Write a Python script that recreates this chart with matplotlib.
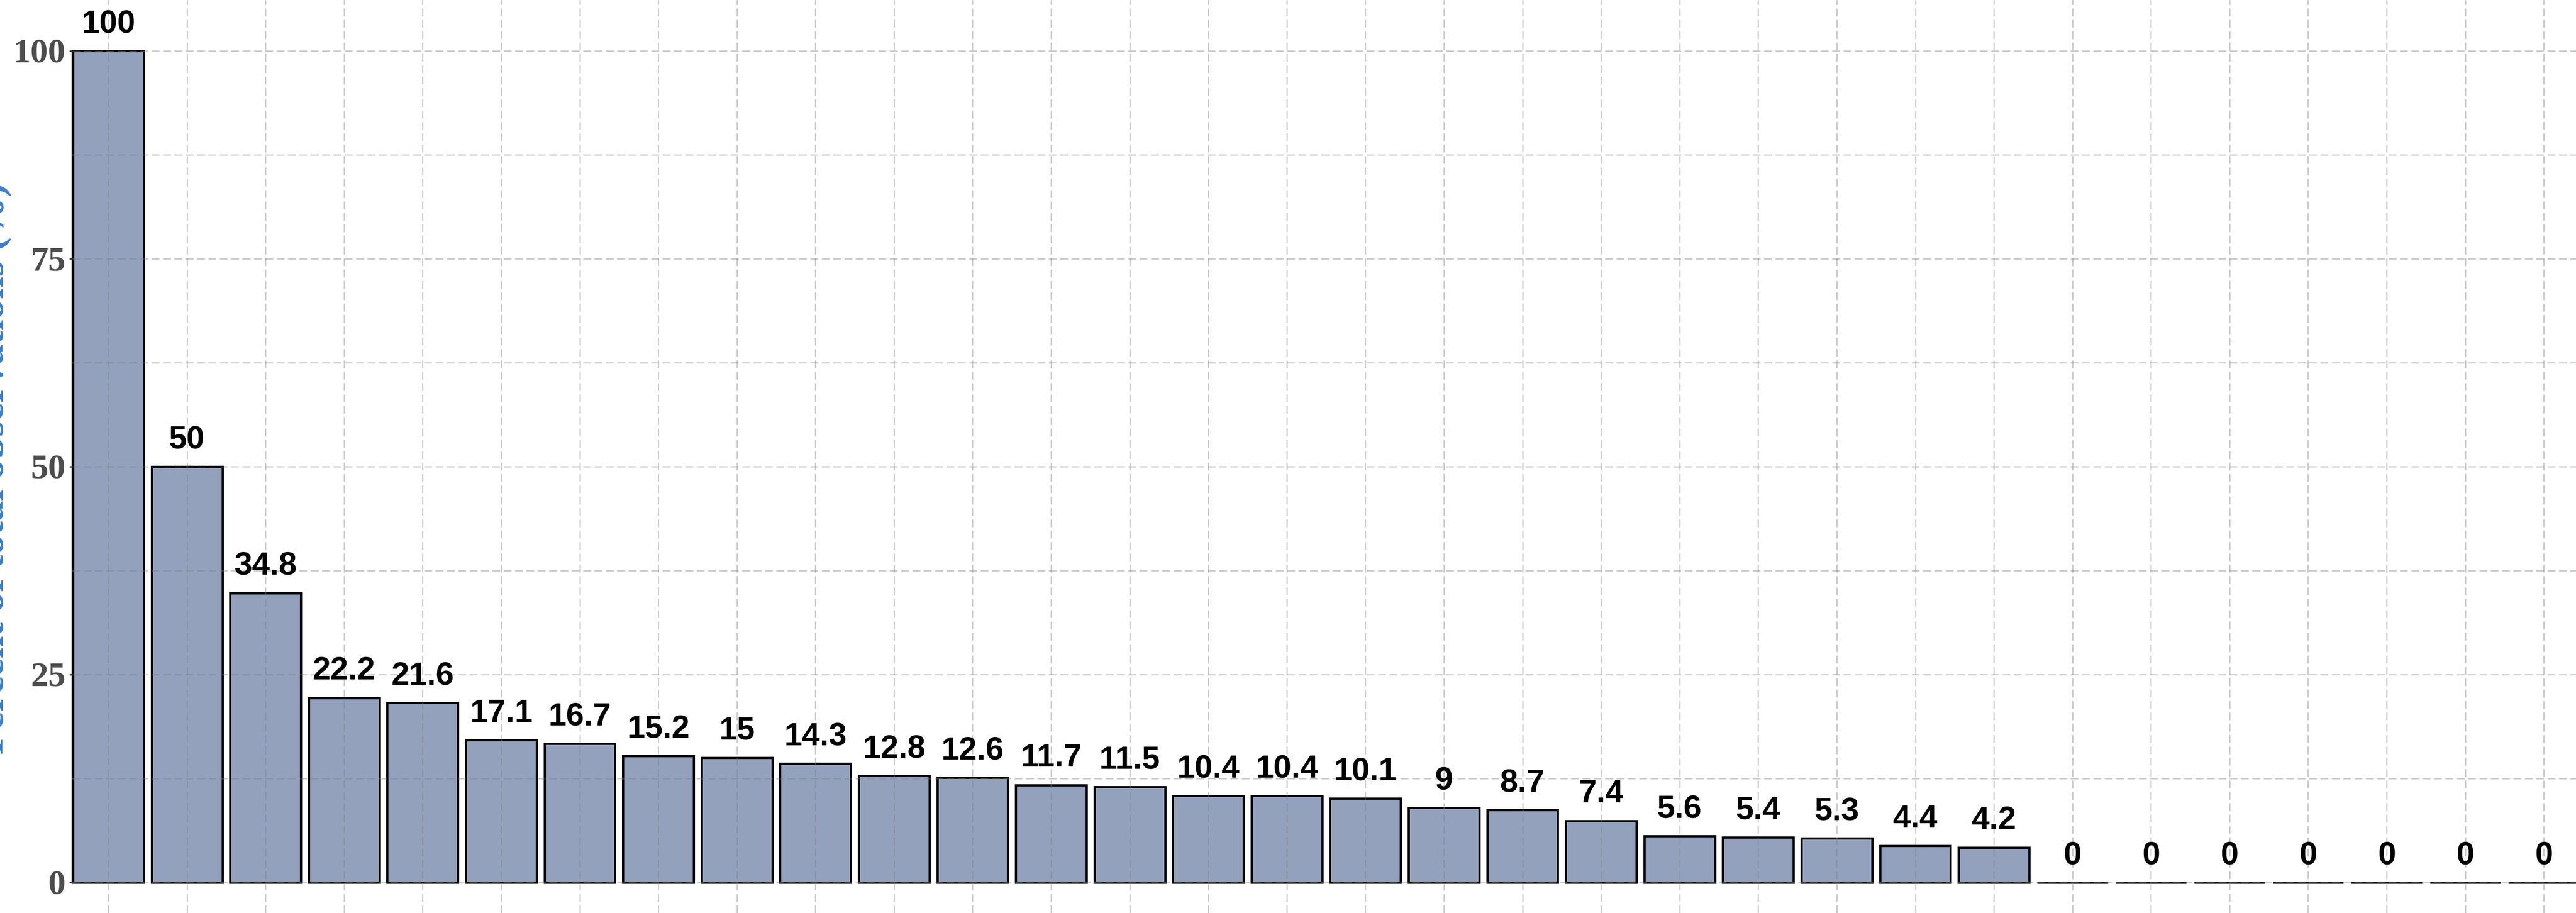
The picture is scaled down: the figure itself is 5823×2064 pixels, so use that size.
import matplotlib.pyplot as plt
import numpy as np


values = [100, 50, 34.8, 22.2, 21.6, 17.1, 16.7, 15.2, 15, 14.3, 12.8, 12.6,
          11.7, 11.5, 10.4, 10.4, 10.1, 9, 8.7, 7.4, 5.6, 5.4, 5.3, 4.4, 4.2,
          0, 0, 0, 0, 0, 0, 0]
y_ticks = [0, 25, 50, 75, 100]
y_label = 'Percent of total observations (%)'

bar_color = '#94a1bd'

fig = plt.figure(figsize=(5823 / 300, 2064 / 300), dpi=300)
ax = fig.add_axes([163 / 5823, 0, 1 - 163 / 5823, 1])

x = np.arange(len(values))
ax.bar(x, values, width=0.9, color=bar_color, edgecolor='black', linewidth=1.2)

for xi, v in zip(x, values):
    ax.annotate('{:g}'.format(v), (xi, v), xytext=(0, 10), textcoords='offset points',
                ha='center', va='baseline', fontsize=17.5, fontweight='bold',
                family='Liberation Sans', color='black')

ax.set_xlim(-0.462, 31.41)
ax.set_ylim(-3.67, 106.1)

ax.set_xticks(x)
ax.set_yticks(y_ticks)
ax.set_yticks([12.5, 37.5, 62.5, 87.5], minor=True)
ax.set_yticklabels([str(t) for t in y_ticks], family='Liberation Serif',
                   fontweight='bold', fontsize=19, color='#4d4d4d')
ax.tick_params(axis='x', length=0, labelbottom=False)
ax.tick_params(axis='y', which='major', length=1.5, width=0.8, color='#333333', pad=2)
ax.tick_params(axis='y', which='minor', length=0)

ax.set_axisbelow(False)
grid_style = dict(color='#7f7f7f', alpha=0.4, linewidth=0.7, linestyle=(0, (6, 2.8)))
ax.grid(True, which='major', axis='both', **grid_style)
ax.grid(True, which='minor', axis='y', **grid_style)

for side in ['top', 'right', 'bottom']:
    ax.spines[side].set_visible(False)
ax.spines['left'].set_bounds(0, 100)
ax.spines['left'].set_linewidth(0.8)

# the axis title sits mostly off the left edge, as in the source image
fig.text(26 / 5823, 0.487, y_label, rotation=90, ha='right', va='center',
         family='Liberation Serif', fontweight='bold', fontsize=22, color='#3a7dc9')

fig.savefig('out.png', dpi=300)
